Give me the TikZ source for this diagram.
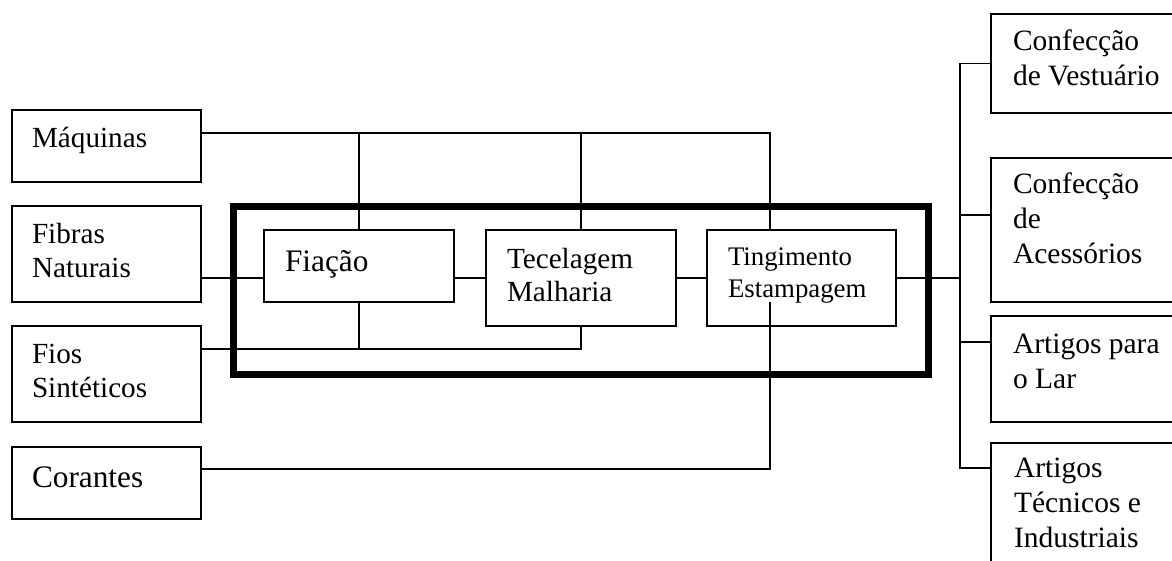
\documentclass[tikz,border=0pt]{standalone}
\usepackage{fontspec}
\setmainfont{Liberation Serif}
% left-aligned multi-line label whose baseline is that of its first line
\newcommand\stackl[1]{\begin{tabular}[t]{@{}l@{}}#1\end{tabular}}
\begin{document}
\begin{tikzpicture}[x=1pt,y=-1pt,
  box/.style={draw,line width=1.9pt,rectangle,inner sep=0pt,outer sep=0pt},
  frame/.style={draw,line width=7pt,rectangle,inner sep=0pt,outer sep=0pt},
  conn/.style={line width=1.9pt},
  txt/.style={anchor=base west,inner sep=0pt,outer sep=0pt,font=\fontsize{29.2}{34}\selectfont},
  txtr/.style={txt,font=\fontsize{29.5}{35}\selectfont},
  txtbig/.style={txt,font=\fontsize{31.3}{35}\selectfont},
  txtsmall/.style={txt,font=\fontsize{26.8}{32}\selectfont},
]
\useasboundingbox (0,0) rectangle (1172,560);
\fill[white] (0,0) rectangle (1172,560);

% group frame around the three production stages
\node[frame,minimum width=695pt,minimum height=168pt] (core) at (580.5,290) {};

% inputs
\node[box,minimum width=189pt,minimum height=72pt] (maq)  at (106.5,146) {};
\node[box,minimum width=189pt,minimum height=96pt] (fib)  at (106.5,254) {};
\node[box,minimum width=189pt,minimum height=96pt] (fios) at (106.5,374) {};
\node[box,minimum width=189pt,minimum height=72pt] (cor)  at (106.5,483) {};

% production stages
\node[box,minimum width=190pt,minimum height=72pt] (fia)  at (359,266) {};
\node[box,minimum width=190pt,minimum height=96pt] (tec)  at (581,278) {};
\node[box,minimum width=189pt,minimum height=96pt] (ting) at (801.5,278) {};

% outputs (run past the right edge)
\node[box,minimum width=200pt,minimum height=99pt]  (vest) at (1091,63.5) {};
\node[box,minimum width=200pt,minimum height=144pt] (aces) at (1091,230) {};
\node[box,minimum width=200pt,minimum height=106pt] (lar)  at (1091,369) {};
\node[box,minimum width=200pt,minimum height=137pt] (tind) at (1091,511.5) {};

% labels
\node[txt] (maqT)  at (32,147) {Máquinas};
\node[txt] (fibT)  at (32,243) {\stackl{Fibras\\Naturais}};
\node[txt] (fiosT) at (32,363) {\stackl{Fios\\Sintéticos}};
\node[txtbig] (corT) at (32,487) {Corantes};
\node[txtbig] (fiaT) at (285,271) {Fiação};
\node[txt,font=\fontsize{29.2}{33}\selectfont] (tecT) at (507,268) {\stackl{Tecelagem\\Malharia}};
\node[txtsmall] (tingT) at (728,265) {\stackl{Tingimento\\Estampagem}};
\node[txtr] (vestT) at (1013,50)  {\stackl{Confecção\\de Vestuário}};
\node[txtr] (acesT) at (1013,193) {\stackl{Confecção\\de\\Acessórios}};
\node[txtr] (larT)  at (1013,353) {\stackl{Artigos para\\o Lar}};
\node[txtr] (tindT) at (1014,477) {\stackl{Artigos\\Técnicos e\\Industriais}};

% junction points
\coordinate (mq)     at ([yshift=13pt]maq.east);
\coordinate (tingIn) at ([xshift=-31.5pt]ting.north);
\coordinate (fb)     at ([yshift=-24pt]fib.east);
\coordinate (fs)     at ([yshift=25pt]fios.east);
\coordinate (cr)     at ([yshift=14pt]cor.east);
\coordinate (tingC)  at ([xshift=-31.5pt,yshift=-24pt]ting.center);
\coordinate (bus)    at ([xshift=64pt]ting.east);
\coordinate (acIn)   at ([yshift=15pt]aces.west);
\coordinate (laIn)   at ([yshift=27pt]lar.west);
\coordinate (tiIn)   at ([yshift=43.5pt]tind.west);

% machines feed every stage
\draw[conn] (mq) -| (tingIn);
\draw[conn] (fia.north) -- (fia.north |- mq);
\draw[conn] (tec.north) -- (tec.north |- mq);

% fibres into spinning
\draw[conn] (fb) -- (fb -| fia.west);

% synthetic yarns into spinning and weaving
\draw[conn] (fs) -| (tec.south);
\draw[conn] (fia.south) -- (fia.south |- fs);

% stage chain
\draw[conn] ([yshift=-12pt]fia.east) -- (tec.west);
\draw[conn] (tec.east) -- (ting.west);

% dyes into dyeing/printing
\draw[conn] (cr) -| (tingC);

% distribution bus to the end products
\draw[conn] (ting.east) -- (bus);
\draw[conn] (vest.west) -| (bus);
\draw[conn] (tiIn) -| (bus);
\draw[conn] (acIn) -- (acIn -| bus);
\draw[conn] (laIn) -- (laIn -| bus);
\end{tikzpicture}
\end{document}
